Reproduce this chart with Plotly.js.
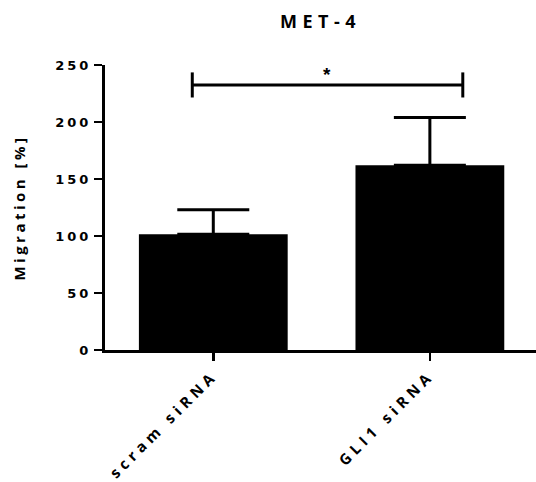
<!DOCTYPE html>
<html>
<head>
<meta charset="utf-8">
<script src="https://cdn.plot.ly/plotly-3.0.1.min.js"></script>
<style>
  html, body { margin: 0; padding: 0; background: #fff; }
  #chart { width: 536px; height: 482px; }
  /* wide, spaced-out lettering used throughout the figure */
  #chart .gtitle { letter-spacing: 5.5px; }
  #chart .ytitle { letter-spacing: 3.5px; }
  #chart .ytick text { letter-spacing: 3px; }
  #chart .xtick text { letter-spacing: 4.6px; }
</style>
</head>
<body>
<div id="chart"></div>
<script>
// Migration of MET-4 cells after siRNA knockdown (mean + SD)
const groups = ['scram siRNA', 'GLI1 siRNA'];
const migration = [101.5, 162];
const migrationSD = [21.5, 42];
const yTicks = [0, 50, 100, 150, 200, 250];

const black = '#000000';
const textFamily = 'Open Sans, Noto Sans, sans-serif';
const numberFamily = 'DejaVu Sans, Liberation Sans, sans-serif';

const bars = {
  type: 'bar',
  x: groups,
  y: migration,
  width: 0.687,
  marker: { color: black, line: { width: 0 } },
  error_y: {
    type: 'data',
    symmetric: false,
    array: migrationSD,
    arrayminus: migrationSD.map(() => 0),
    color: black,
    thickness: 3,
    width: 36
  },
  hoverinfo: 'skip'
};

// significance bracket between the two groups
const bx0 = -0.097, bx1 = 1.152, by = 232.5, bend = 11;
const bracketLine = { type: 'line', xref: 'x', yref: 'y', line: { color: black, width: 3 } };

const layout = {
  width: 536,
  height: 482,
  margin: { l: 105, r: 0, t: 65, b: 132 },
  paper_bgcolor: '#ffffff',
  plot_bgcolor: '#ffffff',
  showlegend: false,
  title: {
    text: 'MET-4',
    font: { family: textFamily, size: 18, color: black, weight: 'bold' },
    xref: 'paper', x: 0.5, xanchor: 'center',
    yref: 'container', y: 0.955, yanchor: 'middle'
  },
  xaxis: {
    type: 'category',
    range: [-0.5, 1.49],
    showline: true, linecolor: black, linewidth: 3,
    ticks: 'outside', ticklen: 8, tickwidth: 2.5, tickcolor: black,
    tickangle: -45,
    tickfont: { family: textFamily, size: 15, color: black, weight: 'bold' },
    showgrid: false, zeroline: false, fixedrange: true
  },
  yaxis: {
    range: [0, 250],
    tickvals: yTicks,
    showline: true, linecolor: black, linewidth: 3,
    ticks: 'outside', ticklen: 8, tickwidth: 2.5, tickcolor: black,
    tickfont: { family: numberFamily, size: 13, color: black, weight: 'bold' },
    showgrid: false, zeroline: false, fixedrange: true,
    title: {
      text: 'Migration [%]',
      font: { family: textFamily, size: 15, color: black, weight: 'bold' },
      standoff: 36
    }
  },
  shapes: [
    Object.assign({ x0: bx0, x1: bx1, y0: by, y1: by }, bracketLine),
    Object.assign({ x0: bx0, x1: bx0, y0: by - bend, y1: by + bend }, bracketLine),
    Object.assign({ x0: bx1, x1: bx1, y0: by - bend, y1: by + bend }, bracketLine)
  ],
  annotations: [{
    text: '*',
    xref: 'x', yref: 'y',
    x: 0.525, y: by,
    xanchor: 'center', yanchor: 'bottom',
    yshift: -2,
    showarrow: false,
    font: { family: 'Liberation Sans, Arial, sans-serif', size: 19, color: black, weight: 'bold' }
  }]
};

Plotly.newPlot('chart', [bars], layout, { staticPlot: true, displayModeBar: false });
</script>
</body>
</html>
